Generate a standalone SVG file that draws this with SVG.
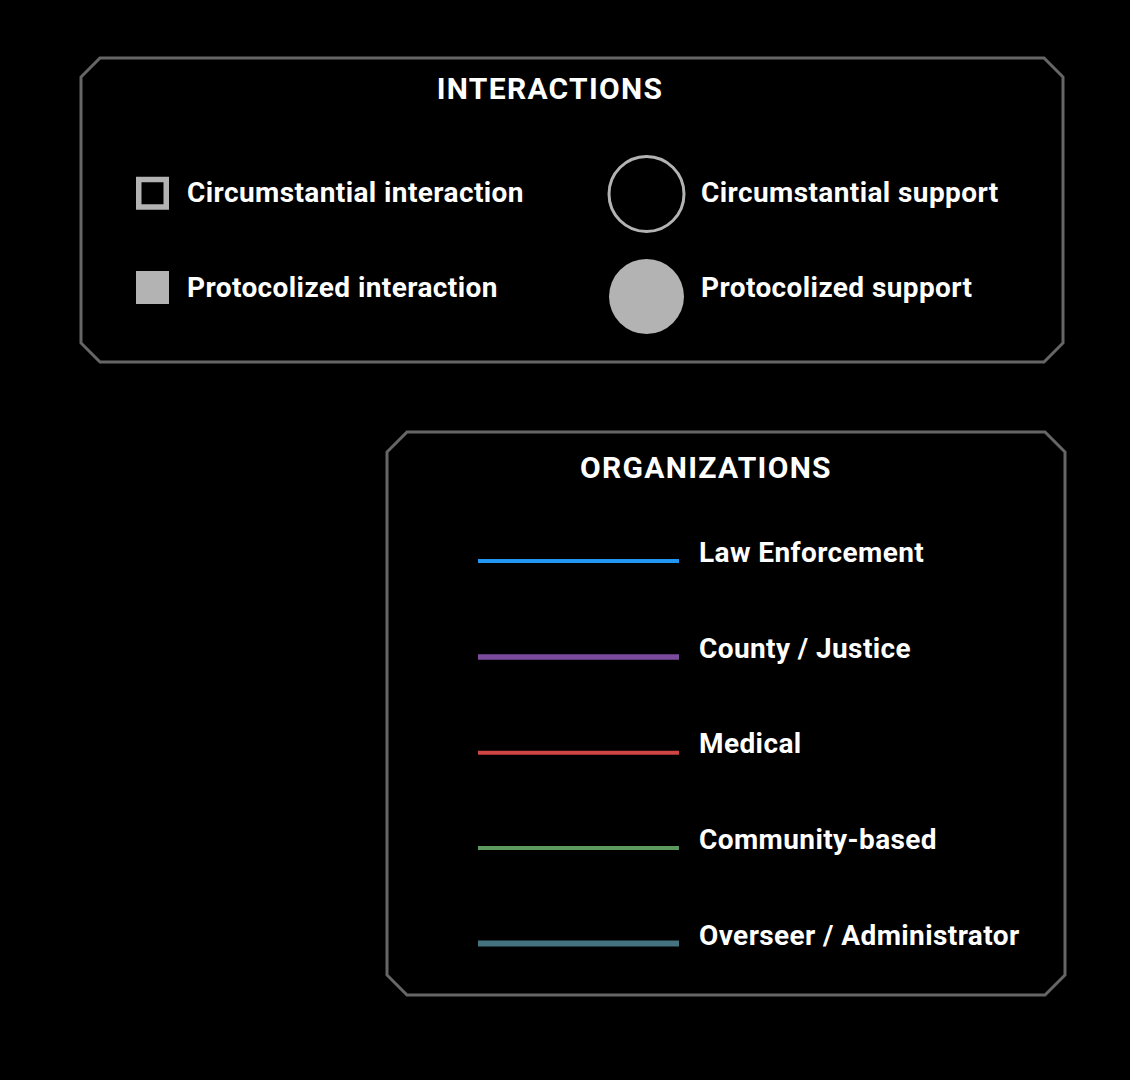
<svg xmlns="http://www.w3.org/2000/svg" width="1130" height="1080" viewBox="0 0 1130 1080">
<style>
.frame{fill:#000;stroke:#666;stroke-width:3}
.title{font-family:Roboto,"Liberation Sans",sans-serif;font-weight:bold;font-size:30px;letter-spacing:1.3px;fill:#fff;text-anchor:middle}
.lbl{font-family:Roboto,"Liberation Sans",sans-serif;font-weight:bold;font-size:28px;letter-spacing:0.4px;fill:#fff}
.sym{fill:#b3b3b3}
.org{fill:none}
</style>
<rect width="1130" height="1080" fill="#000"/>
<g id="interactions-legend">
<path class="frame" d="M100,58 H1044 L1063,77 V343 L1044,362 H100 L81,343 V77 Z"/>
<text class="title" x="550" y="99">INTERACTIONS</text>
<g id="circumstantial-interaction">
<rect x="138.75" y="179.5" width="27.5" height="27.5" fill="none" stroke="#b3b3b3" stroke-width="5.5"/>
<text class="lbl" x="187" y="202">Circumstantial interaction</text>
</g>
<g id="protocolized-interaction">
<rect class="sym" x="136" y="271" width="33" height="33"/>
<text class="lbl" x="187" y="297">Protocolized interaction</text>
</g>
<g id="circumstantial-support">
<circle cx="646.5" cy="194" r="37.5" fill="none" stroke="#b3b3b3" stroke-width="3"/>
<text class="lbl" x="701" y="202">Circumstantial support</text>
</g>
<g id="protocolized-support">
<circle class="sym" cx="646.5" cy="296.5" r="37.5"/>
<text class="lbl" x="701" y="297">Protocolized support</text>
</g>
</g>
<g id="organizations-legend">
<path class="frame" d="M407,432 H1045 L1065,452 V975 L1045,995 H407 L387,975 V452 Z"/>
<text class="title" x="706" y="478">ORGANIZATIONS</text>
<g id="law-enforcement">
<line class="org" x1="478" y1="561" x2="679" y2="561" stroke="#2196f3" stroke-width="4"/>
<text class="lbl" x="699" y="562">Law Enforcement</text>
</g>
<g id="county-justice">
<line class="org" x1="478" y1="657" x2="679" y2="657" stroke="#7b4c9e" stroke-width="5.5"/>
<text class="lbl" x="699" y="658">County / Justice</text>
</g>
<g id="medical">
<line class="org" x1="478" y1="752.7" x2="679" y2="752.7" stroke="#d04545" stroke-width="4"/>
<text class="lbl" x="699" y="753">Medical</text>
</g>
<g id="community-based">
<line class="org" x1="478" y1="848" x2="679" y2="848" stroke="#5e9a5e" stroke-width="4"/>
<text class="lbl" x="699" y="849">Community-based</text>
</g>
<g id="overseer-administrator">
<line class="org" x1="478" y1="943.5" x2="679" y2="943.5" stroke="#44737f" stroke-width="6"/>
<text class="lbl" x="699" y="945">Overseer / Administrator</text>
</g>
</g>
<g id="connectors"/>
</svg>
